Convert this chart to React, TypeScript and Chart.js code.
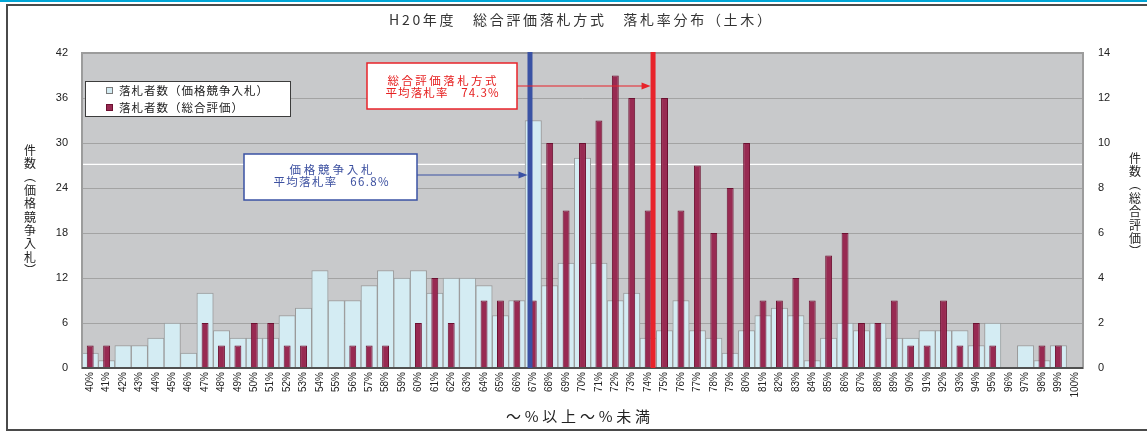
import React, { useEffect, useRef } from 'react';
import { Chart, registerables } from 'chart.js';

Chart.register(...registerables);

// ---- data ----
const RATE_LABELS = [
  '40%', '41%', '42%', '43%', '44%', '45%', '46%', '47%', '48%', '49%',
  '50%', '51%', '52%', '53%', '54%', '55%', '56%', '57%', '58%', '59%',
  '60%', '61%', '62%', '63%', '64%', '65%', '66%', '67%', '68%', '69%',
  '70%', '71%', '72%', '73%', '74%', '75%', '76%', '77%', '78%', '79%',
  '80%', '81%', '82%', '83%', '84%', '85%', '86%', '87%', '88%', '89%',
  '90%', '91%', '92%', '93%', '94%', '95%', '96%', '97%', '98%', '99%',
  '100%',
];

// 落札者数（価格競争入札） — left axis
const PRICE_COMPETITION = [
  2, 1, 3, 3, 4, 6, 2, 10, 5, 4,
  4, 4, 7, 8, 13, 9, 9, 11, 13, 12,
  13, 10, 12, 12, 11, 7, 9, 33, 11, 14,
  28, 14, 9, 10, 4, 5, 9, 5, 4, 2,
  5, 7, 8, 7, 1, 4, 6, 5, 6, 4,
  4, 5, 5, 5, 3, 6, 0, 3, 1, 3,
  0,
];

// 落札者数（総合評価） — right axis
const COMPREHENSIVE = [
  1, 1, 0, 0, 0, 0, 0, 2, 1, 1,
  2, 2, 1, 1, 0, 0, 1, 1, 1, 0,
  2, 4, 2, 0, 3, 3, 3, 3, 10, 7,
  10, 11, 13, 12, 7, 12, 7, 9, 6, 8,
  10, 3, 3, 4, 3, 5, 6, 2, 2, 3,
  1, 1, 3, 1, 2, 1, 0, 0, 1, 1,
  0,
];

const LEFT_MAX = 42;
const LEFT_STEP = 6;
const RIGHT_MAX = 14;
const RIGHT_STEP = 2;
const FIRST_RATE = 40;
const AVG_PRICE_RATE = 66.8;
const AVG_COMP_RATE = 74.3;
const WHITE_LINE_RIGHT_VALUE = 9.05;

const TITLE = 'H20年度　総合評価落札方式　落札率分布（土木）';
const LEGEND_PRICE = '落札者数（価格競争入札）';
const LEGEND_COMP = '落札者数（総合評価）';
const LEFT_AXIS_TITLE = ['件', '数', '︵', '価', '格', '競', '争', '入', '札', '︶'];
const RIGHT_AXIS_TITLE = ['件', '数', '︵', '総', '合', '評', '価', '︶'];
const X_AXIS_TITLE = '～%以上～%未満';
const COMP_NOTE = ['総合評価落札方式', '平均落札率　74.3%'];
const PRICE_NOTE = ['価格競争入札', '平均落札率　66.8%'];

const JP = '"Noto Sans CJK JP", "Liberation Sans", sans-serif';
const NUM = '"Liberation Sans", Arial, sans-serif';

const LIGHT_BLUE = '#d4ecf3';
const LIGHT_BLUE_BORDER = '#9a9a9a';
const MAROON = '#982a52';
const MAROON_BORDER = '#6c1030';
const RED = '#e8232a';
const BLUE = '#3a52a4';

function drawFitted(ctx: CanvasRenderingContext2D, text: string, cx: number, cy: number, width: number) {
  const chars = Array.from(text);
  const widths = chars.map((c) => ctx.measureText(c).width);
  const total = widths.reduce((a, b) => a + b, 0);
  const gap = chars.length > 1 ? Math.max(0, (width - total) / (chars.length - 1)) : 0;
  let x = cx - (total + gap * (chars.length - 1)) / 2;
  ctx.textAlign = 'left';
  ctx.textBaseline = 'middle';
  chars.forEach((c, i) => {
    ctx.fillText(c, x, cy);
    x += widths[i] + gap;
  });
}

function arrow(ctx: CanvasRenderingContext2D, x1: number, x2: number, y: number, color: string) {
  ctx.save();
  ctx.strokeStyle = color;
  ctx.fillStyle = color;
  ctx.lineWidth = 1.2;
  ctx.beginPath();
  ctx.moveTo(x1, y);
  ctx.lineTo(x2 - 7, y);
  ctx.stroke();
  ctx.beginPath();
  ctx.moveTo(x2, y);
  ctx.lineTo(x2 - 9, y - 3.5);
  ctx.lineTo(x2 - 9, y + 3.5);
  ctx.closePath();
  ctx.fill();
  ctx.restore();
}

const decorPlugin = {
  id: 'decor',
  beforeDraw(chart: any) {
    const { ctx, chartArea: a } = chart;
    ctx.save();
    ctx.fillStyle = '#ffffff';
    ctx.fillRect(0, 0, chart.width, chart.height);
    // outer frame
    ctx.fillStyle = '#00a6d6';
    ctx.fillRect(0, 0, chart.width, 2);
    ctx.strokeStyle = '#4a4a4a';
    ctx.lineWidth = 2;
    ctx.strokeRect(7, 5, chart.width + 20, 425);
    // plot background
    ctx.fillStyle = '#c8c9cb';
    ctx.fillRect(a.left, a.top, a.right - a.left, a.bottom - a.top);
    ctx.restore();
  },
  beforeDatasetsDraw(chart: any) {
    const { ctx, chartArea: a } = chart;
    const y = chart.scales.y2.getPixelForValue(WHITE_LINE_RIGHT_VALUE);
    ctx.save();
    ctx.strokeStyle = '#ffffff';
    ctx.lineWidth = 1.2;
    ctx.beginPath();
    ctx.moveTo(a.left, y);
    ctx.lineTo(a.right, y);
    ctx.stroke();
    ctx.restore();
  },
  afterDatasetsDraw(chart: any) {
    const { ctx, chartArea: a } = chart;
    const xs = chart.scales.x;
    ctx.save();
    // plot border
    ctx.strokeStyle = '#9c9c9c';
    ctx.lineWidth = 2;
    ctx.strokeRect(a.left, a.top, a.right - a.left, a.bottom - a.top);
    ctx.strokeStyle = '#505050';
    ctx.beginPath();
    ctx.moveTo(a.left, a.bottom);
    ctx.lineTo(a.right, a.bottom);
    ctx.stroke();
    // average lines
    const bx = xs.getPixelForValue(AVG_PRICE_RATE - FIRST_RATE);
    const rx = xs.getPixelForValue(AVG_COMP_RATE - FIRST_RATE);
    ctx.lineWidth = 5;
    ctx.strokeStyle = BLUE;
    ctx.beginPath();
    ctx.moveTo(bx, a.top - 1);
    ctx.lineTo(bx, a.bottom);
    ctx.stroke();
    ctx.strokeStyle = RED;
    ctx.beginPath();
    ctx.moveTo(rx, a.top - 1);
    ctx.lineTo(rx, a.bottom);
    ctx.stroke();
    ctx.restore();
  },
  afterDraw(chart: any) {
    const { ctx } = chart;
    const xs = chart.scales.x;
    const bx = xs.getPixelForValue(AVG_PRICE_RATE - FIRST_RATE);
    const rx = xs.getPixelForValue(AVG_COMP_RATE - FIRST_RATE);
    ctx.save();
    // title
    ctx.fillStyle = '#333333';
    ctx.font = `14px ${JP}`;
    drawFitted(ctx, TITLE, 580, 20, 382);

    // axis titles
    ctx.fillStyle = '#222222';
    ctx.font = `12px ${JP}`;
    ctx.textAlign = 'center';
    ctx.textBaseline = 'middle';
    LEFT_AXIS_TITLE.forEach((c, i) => ctx.fillText(c, 30, 150 + i * 13.4));
    RIGHT_AXIS_TITLE.forEach((c, i) => ctx.fillText(c, 1135, 158 + i * 13.4));
    ctx.font = `15px ${JP}`;
    drawFitted(ctx, X_AXIS_TITLE, 578, 416, 144);

    // legend
    ctx.fillStyle = '#ffffff';
    ctx.fillRect(85, 81, 205, 35);
    ctx.strokeStyle = '#3c3c3c';
    ctx.lineWidth = 1;
    ctx.strokeRect(85.5, 81.5, 205, 35);
    ctx.fillStyle = LIGHT_BLUE;
    ctx.fillRect(106.5, 87.5, 6, 6);
    ctx.strokeStyle = '#7a7a7a';
    ctx.strokeRect(106.5, 87.5, 6, 6);
    ctx.fillStyle = MAROON;
    ctx.fillRect(106.5, 104.5, 6, 6);
    ctx.strokeStyle = MAROON_BORDER;
    ctx.strokeRect(106.5, 104.5, 6, 6);
    ctx.fillStyle = '#222222';
    ctx.font = `11.5px ${JP}`;
    drawFitted(ctx, LEGEND_PRICE, 119 + 149 / 2, 91, 149);
    drawFitted(ctx, LEGEND_COMP, 119 + 124 / 2, 107.5, 124);

    // red note
    ctx.fillStyle = '#ffffff';
    ctx.fillRect(367, 63, 150, 46);
    ctx.strokeStyle = RED;
    ctx.lineWidth = 1.5;
    ctx.strokeRect(367, 63, 150, 46);
    ctx.fillStyle = '#e62020';
    ctx.font = `11.5px ${JP}`;
    drawFitted(ctx, COMP_NOTE[0], 442, 81, 109);
    drawFitted(ctx, COMP_NOTE[1], 442, 93, 113);
    arrow(ctx, 517, rx - 2.5, 86, RED);

    // blue note
    ctx.fillStyle = '#ffffff';
    ctx.fillRect(244, 154, 173, 46);
    ctx.strokeStyle = BLUE;
    ctx.lineWidth = 1.5;
    ctx.strokeRect(244, 154, 173, 46);
    ctx.fillStyle = '#3c50a0';
    drawFitted(ctx, PRICE_NOTE[0], 331, 170, 83);
    drawFitted(ctx, PRICE_NOTE[1], 331, 182, 115);
    arrow(ctx, 417, bx - 2.5, 175, BLUE);
    ctx.restore();
  },
};

export default function App() {
  const ref = useRef<HTMLCanvasElement>(null);

  useEffect(() => {
    const canvas = ref.current;
    if (!canvas) return;
    const chart = new Chart(canvas, {
      type: 'bar',
      data: {
        labels: RATE_LABELS,
        datasets: [
          {
            label: LEGEND_COMP,
            data: COMPREHENSIVE.map((v) => (v === 0 ? null : v)),
            yAxisID: 'y2',
            backgroundColor: MAROON,
            borderColor: MAROON_BORDER,
            borderWidth: 1,
            barPercentage: 0.42,
            categoryPercentage: 1,
            grouped: false,
            order: 0,
          },
          {
            label: LEGEND_PRICE,
            data: PRICE_COMPETITION.map((v) => (v === 0 ? null : v)),
            yAxisID: 'y',
            backgroundColor: LIGHT_BLUE,
            borderColor: LIGHT_BLUE_BORDER,
            borderWidth: 1,
            barPercentage: 1,
            categoryPercentage: 1,
            grouped: false,
            order: 1,
          },
        ],
      },
      options: {
        responsive: false,
        animation: false,
        devicePixelRatio: 1,
        layout: { padding: { top: 53, left: 0, right: 0, bottom: 0 } },
        plugins: {
          legend: { display: false },
          tooltip: { enabled: false },
          title: { display: false },
        },
        scales: {
          x: {
            type: 'category',
            offset: true,
            grid: { display: false, drawTicks: false },
            border: { display: false },
            ticks: {
              autoSkip: false,
              minRotation: 90,
              maxRotation: 90,
              padding: 4,
              color: '#222222',
              font: { size: 10, family: NUM },
            },
            afterFit: (s: any) => {
              s.height = 64;
            },
          },
          y: {
            position: 'left',
            min: 0,
            max: LEFT_MAX,
            ticks: {
              stepSize: LEFT_STEP,
              padding: 14,
              color: '#222222',
              font: { size: 11, family: NUM },
            },
            grid: { color: '#a3a3a3', lineWidth: 1, drawTicks: false },
            border: { display: false },
            afterFit: (s: any) => {
              s.width = 82;
            },
          },
          y2: {
            position: 'right',
            min: 0,
            max: RIGHT_MAX,
            ticks: {
              stepSize: RIGHT_STEP,
              padding: 15,
              color: '#222222',
              font: { size: 11, family: NUM },
            },
            grid: { display: false, drawTicks: false },
            border: { display: false },
            afterFit: (s: any) => {
              s.width = 64;
            },
          },
        },
      },
      plugins: [decorPlugin],
    } as any);
    return () => chart.destroy();
  }, []);

  return (
    <div style={{ position: 'absolute', left: 0, top: 0, width: 1147, height: 432 }}>
      <canvas ref={ref} width={1147} height={432} style={{ display: 'block' }} />
    </div>
  );
}
